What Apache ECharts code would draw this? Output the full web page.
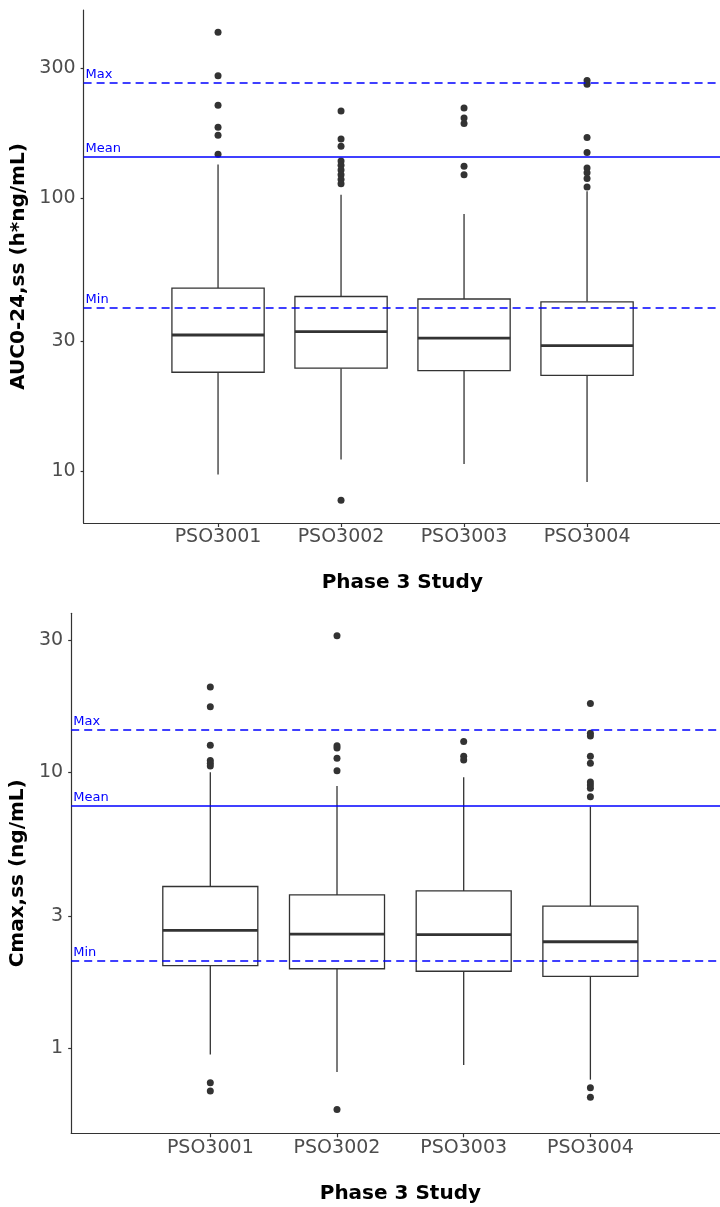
<!DOCTYPE html>
<html><head><meta charset="utf-8">
<script src="https://cdn.jsdelivr.net/npm/echarts@6/dist/echarts.min.js"></script>
<style>html,body{margin:0;padding:0;background:#fff}#chart{width:720px;height:1207px}</style>
</head><body><div id="chart"></div>
<script>
const studies = ['PSO3001', 'PSO3002', 'PSO3003', 'PSO3004'];

// AUC0-24,ss (h*ng/mL)
const aucLow    = [9.7, 11.0, 10.6, 9.1];
const aucQ1     = [23.0, 23.8, 23.3, 22.4];
const aucMedian = [31.5, 32.4, 30.7, 28.8];
const aucQ3     = [46.8, 43.6, 42.7, 41.7];
const aucHigh   = [133, 103, 87.6, 106];
const aucOutliers = [
  [406, 281, 219, 182, 170, 145],
  [209, 165, 155, 137, 132, 127, 122, 117, 113, 7.8],
  [214, 197, 188, 131, 122],
  [270, 262, 167, 147, 129, 124, 118, 110]
];
const aucTicks = [10, 30, 100, 300];

// Cmax,ss (ng/mL)
const cmaxLow    = [0.95, 0.82, 0.87, 0.77];
const cmaxQ1     = [1.99, 1.94, 1.90, 1.82];
const cmaxMedian = [2.67, 2.59, 2.58, 2.43];
const cmaxQ3     = [3.85, 3.59, 3.71, 3.27];
const cmaxHigh   = [9.97, 8.90, 9.57, 7.49];
const cmaxOutliers = [
  [20.3, 17.2, 12.5, 11.0, 10.75, 10.5, 0.75, 0.70],
  [31.1, 12.45, 12.2, 11.2, 10.1, 0.60],
  [12.9, 11.4, 11.05],
  [17.7, 13.8, 13.5, 11.4, 10.75, 9.2, 8.97, 8.73, 8.14, 0.72, 0.665]
];
const cmaxTicks = [1, 3, 10, 30];

const refNames = ['Max', 'Mean', 'Min'];
const aucRefValues = [265, 142, 39.5];
const cmaxRefValues = [14.2, 7.53, 2.07];

const FONT = 'DejaVu Sans';
const positions = studies.map((s, i) => i + 1);

function boxData(lo, q1, md, q3, hi) {
  return positions.map((p, i) => [p, lo[i], q1[i], md[i], q3[i], hi[i]]);
}
function outlierData(outs) {
  const d = [];
  outs.forEach((arr, i) => arr.forEach(v => d.push([positions[i], v])));
  return d;
}
function renderBox(params, api) {
  const x = api.value(0);
  const lo = api.coord([x, api.value(1)]);
  const q1 = api.coord([x, api.value(2)]);
  const md = api.coord([x, api.value(3)]);
  const q3 = api.coord([x, api.value(4)]);
  const hi = api.coord([x, api.value(5)]);
  const w = api.size([0.75, 0], [x, api.value(3)])[0] / 2;
  const st = { stroke: '#333333', lineWidth: 1.3, fill: null };
  return {
    type: 'group',
    children: [
      { type: 'line', shape: { x1: lo[0], y1: lo[1], x2: q1[0], y2: q1[1] }, style: st },
      { type: 'line', shape: { x1: q3[0], y1: q3[1], x2: hi[0], y2: hi[1] }, style: st },
      { type: 'rect', shape: { x: q3[0] - w, y: q3[1], width: 2 * w, height: q1[1] - q3[1] },
        style: { stroke: '#333333', lineWidth: 1.3, fill: '#ffffff' } },
      { type: 'line', shape: { x1: md[0] - w, y1: md[1], x2: md[0] + w, y2: md[1] },
        style: { stroke: '#333333', lineWidth: 2.8 } }
    ]
  };
}
function refLines(values) {
  return {
    silent: true,
    symbol: ['none', 'none'],
    z: 10,
    label: {
      show: true, position: 'insideStartTop', formatter: '{b}',
      color: '#0000ff', fontSize: 13, fontFamily: FONT, distance: [2, 2]
    },
    data: values.map((v, i) => ({
      name: refNames[i], yAxis: v,
      lineStyle: { color: '#0000ff', width: 1.5, type: refNames[i] === 'Mean' ? 'solid' : [8, 5] }
    }))
  };
}
const axisLineStyle = { color: '#333333', width: 1.2 };
function xAxisDef(gi, min, max) {
  return {
    gridIndex: gi, type: 'value', min: min, max: max,
    axisLine: { show: true, onZero: false, lineStyle: axisLineStyle },
    axisTick: { show: true, customValues: positions, length: 4, lineStyle: axisLineStyle },
    axisLabel: { customValues: positions, formatter: v => studies[Math.round(v) - 1] || '',
      color: '#4d4d4d', fontSize: 19, fontFamily: FONT, margin: 5 },
    splitLine: { show: false },
    name: 'Phase 3 Study', nameLocation: 'middle', nameGap: 50,
    nameTextStyle: { fontWeight: 'bold', fontSize: 20, color: '#000', fontFamily: FONT }
  };
}
function yAxisDef(gi, min, max, ticks, name, gap) {
  return {
    gridIndex: gi, type: 'log', logBase: 10, min: min, max: max,
    axisLine: { show: true, onZero: false, lineStyle: axisLineStyle },
    axisTick: { show: true, customValues: ticks, length: 3, lineStyle: axisLineStyle },
    axisLabel: { customValues: ticks, color: '#4d4d4d', fontSize: 19, fontFamily: FONT, margin: 8,
      formatter: v => String(Math.round(v)) },
    splitLine: { show: false }, minorTick: { show: false },
    name: name, nameLocation: 'middle', nameGap: gap,
    nameTextStyle: { fontWeight: 'bold', fontSize: 20, color: '#000', fontFamily: FONT }
  };
}

const chart = echarts.init(document.getElementById('chart'), null, { renderer: 'canvas' });
chart.setOption({
  animation: false,
  backgroundColor: '#ffffff',
  grid: [
    { left: 83.6, top: 10, width: 637.4, height: 513, containLabel: false, outerBoundsMode: 'none' },
    { left: 71.2, top: 613.3, width: 658.3, height: 520, containLabel: false, outerBoundsMode: 'none' }
  ],
  xAxis: [xAxisDef(0, -0.093, 5.089), xAxisDef(1, -0.098, 5.098)],
  yAxis: [
    yAxisDef(0, 6.44, 490, aucTicks, 'AUC0-24,ss (h*ng/mL)', 50),
    yAxisDef(1, 0.4925, 37.5, cmaxTicks, 'Cmax,ss (ng/mL)', 37)
  ],
  series: [
    { type: 'custom', xAxisIndex: 0, yAxisIndex: 0, renderItem: renderBox,
      encode: { x: 0, y: [1, 2, 3, 4, 5] },
      data: boxData(aucLow, aucQ1, aucMedian, aucQ3, aucHigh), z: 2 },
    { type: 'scatter', xAxisIndex: 0, yAxisIndex: 0, symbolSize: 7,
      itemStyle: { color: '#333333', opacity: 1 }, data: outlierData(aucOutliers), z: 3,
      markLine: refLines(aucRefValues) },
    { type: 'custom', xAxisIndex: 1, yAxisIndex: 1, renderItem: renderBox,
      encode: { x: 0, y: [1, 2, 3, 4, 5] },
      data: boxData(cmaxLow, cmaxQ1, cmaxMedian, cmaxQ3, cmaxHigh), z: 2 },
    { type: 'scatter', xAxisIndex: 1, yAxisIndex: 1, symbolSize: 7,
      itemStyle: { color: '#333333', opacity: 1 }, data: outlierData(cmaxOutliers), z: 3,
      markLine: refLines(cmaxRefValues) }
  ]
});
</script></body></html>
